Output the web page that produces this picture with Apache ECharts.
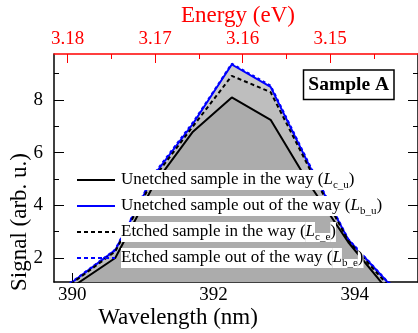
<!DOCTYPE html>
<html><head><meta charset="utf-8">
<script src="https://cdn.jsdelivr.net/npm/echarts@6/dist/echarts.min.js"></script>
<style>html,body{margin:0;padding:0;background:#fff}#c{width:418px;height:333px}</style>
</head><body><div id="c"></div>
<script>
// ---- data ----
const wavelength = [389.9, 390.61, 391.16, 391.71, 392.26, 392.81, 393.36, 393.91, 394.46, 394.7];
const Lc_u = [0.72, 2.0, 4.8, 6.8, 8.1, 7.25, 4.8, 2.6, 0.81, 0.5];
const Lb_u = [0.88, 2.3, 5.15, 7.1, 9.35, 8.5, 5.5, 2.7, 1.1, 0.6];
const Lc_e = [0.85, 2.25, 5.05, 7.0, 8.92, 8.3, 5.4, 2.65, 1.0, 0.55];
const Lb_e = [0.9, 2.32, 5.2, 7.15, 9.38, 8.55, 5.55, 2.72, 1.12, 0.62];
const xTicks = [390, 392, 394];
const xMinorTicks = [391, 393];
const yTicks = [2, 4, 6, 8];
const yMinorTicks = [3, 5, 7, 9];
const eTicks = [3.18, 3.17, 3.16, 3.15];
const eMinorTicks = [3.175, 3.165, 3.155, 3.145];
const legendNames = [
  ['Unetched sample in the way (', 'c_u'],
  ['Unetched sample out of the way (', 'b_u'],
  ['Etched sample in the way (', 'c_e'],
  ['Etched sample out of the way (', 'b_e']
];

// ---- layout ----
const XMIN = 389.743, XMAX = 394.897;
const YMIN = 1.09, YMAX = 9.749;
const EMIN = 3.139943, EMAX = 3.181553;
const FF = "'Liberation Serif', 'Times New Roman', serif";
const RED = '#ff0000';
const BLUE = '#0000ff';

const pts = arr => wavelength.map((w, i) => [w, arr[i]]);

function xAx(pos, min, max, ticks, len, color, showLine, label, extra) {
  return Object.assign({
    type: 'value', position: pos, min: min, max: max,
    axisLine: {show: showLine, onZero: false, lineStyle: {color: color, width: 1.5}},
    axisTick: {show: true, inside: true, length: len, customValues: ticks, lineStyle: {color: color, width: 1}},
    axisLabel: label ? Object.assign({customValues: ticks, color: color, fontFamily: FF, fontSize: 19}, label) : {show: false},
    splitLine: {show: false}
  }, extra || {});
}

const option = {
  animation: false,
  backgroundColor: '#fff',
  grid: {left: 54, top: 54, width: 367, height: 228, containLabel: false},
  xAxis: [
    xAx('bottom', XMIN, XMAX, xTicks, 9, '#000', true, {margin: 4}),
    xAx('bottom', XMIN, XMAX, xMinorTicks, 5, '#000', false, null),
    xAx('top', EMIN, EMAX, eTicks, 9, RED, true, {margin: 5, formatter: v => v.toFixed(2)}, {inverse: true}),
    xAx('top', EMIN, EMAX, eMinorTicks, 5, RED, false, null, {inverse: true})
  ],
  yAxis: [
    xAx('left', YMIN, YMAX, yTicks, 10, '#000', true, {margin: 11}),
    xAx('left', YMIN, YMAX, yMinorTicks, 5, '#000', false, null),
    xAx('right', YMIN, YMAX, yTicks, 10, '#000', true, null),
    xAx('right', YMIN, YMAX, yMinorTicks, 5, '#000', false, null)
  ],
  series: [
    {type: 'line', data: pts(Lb_u), symbol: 'none', z: 1, silent: true, lineStyle: {width: 0}, areaStyle: {color: '#cacaca', opacity: 1, origin: 'start'}},
    {type: 'line', data: pts(Lc_e), symbol: 'none', z: 1, silent: true, lineStyle: {width: 0}, areaStyle: {color: '#bebebe', opacity: 1, origin: 'start'}},
    {type: 'line', data: pts(Lc_u), symbol: 'none', z: 1, silent: true, lineStyle: {width: 0}, areaStyle: {color: '#acacac', opacity: 1, origin: 'start'}},
    {type: 'line', name: 'Lb_u', data: pts(Lb_u), symbol: 'none', z: 3, lineStyle: {color: BLUE, width: 2}},
    {type: 'line', name: 'Lb_e', data: pts(Lb_e), symbol: 'none', z: 3, lineStyle: {color: BLUE, width: 2, type: [3, 3]}},
    {type: 'line', name: 'Lc_e', data: pts(Lc_e), symbol: 'none', z: 3, lineStyle: {color: '#000', width: 2, type: [4, 3]}},
    {type: 'line', name: 'Lc_u', data: pts(Lc_u), symbol: 'none', z: 3, lineStyle: {color: '#000', width: 2}}
  ],
  graphic: []
};

// axis titles
option.graphic.push(
  {type: 'text', x: 238, y: 16, z: 10, style: {text: 'Energy (eV)', fill: RED, fontFamily: FF, fontSize: 23, align: 'center', verticalAlign: 'middle'}},
  {type: 'text', x: 178, y: 318, z: 10, style: {text: 'Wavelength (nm)', fill: '#000', fontFamily: FF, fontSize: 23, align: 'center', verticalAlign: 'middle'}},
  {type: 'text', x: 20, y: 222, rotation: Math.PI / 2, z: 10, style: {text: 'Signal (arb. u.)', fill: '#000', fontFamily: FF, fontSize: 23, align: 'center', verticalAlign: 'middle'}}
);
// sample label
option.graphic.push(
  {type: 'rect', z: 10, shape: {x: 303.5, y: 70, width: 90.5, height: 29.5}, style: {fill: '#fff', stroke: '#000', lineWidth: 1.5}},
  {type: 'text', x: 348.7, y: 85, z: 11, style: {text: 'Sample A', fill: '#000', fontFamily: FF, fontWeight: 'bold', fontSize: 19.5, align: 'center', verticalAlign: 'middle'}}
);
// legend
const legendStyles = [
  {stroke: '#000', lineWidth: 2},
  {stroke: BLUE, lineWidth: 2},
  {stroke: '#000', lineWidth: 2, lineDash: [4, 3]},
  {stroke: BLUE, lineWidth: 2, lineDash: [4, 3]}
];
const rowY = [180, 206, 232, 258];
legendNames.forEach((ln, i) => {
  option.graphic.push({type: 'line', z: 10, shape: {x1: 77, y1: rowY[i], x2: 115, y2: rowY[i]}, style: legendStyles[i]});
  option.graphic.push({type: 'text', x: 121, y: rowY[i], z: 10, style: {
    text: '{n|' + ln[0] + '}{i|L}{s|' + ln[1] + '}{n|)}',
    verticalAlign: 'middle', align: 'left',
    rich: {
      n: {fontFamily: FF, fontSize: 17, fill: '#000', backgroundColor: '#fff', lineHeight: 20, height: 20},
      i: {fontFamily: FF, fontSize: 17, fontStyle: 'italic', fill: '#000', backgroundColor: '#fff', lineHeight: 20, height: 20},
      s: {fontFamily: FF, fontSize: 11, fill: '#000', backgroundColor: '#fff', lineHeight: 9, height: 9, verticalAlign: 'bottom'}
    }
  }});
});

const chart = echarts.init(document.getElementById('c'), null, {renderer: 'canvas'});
chart.setOption(option);
</script>
</body></html>
